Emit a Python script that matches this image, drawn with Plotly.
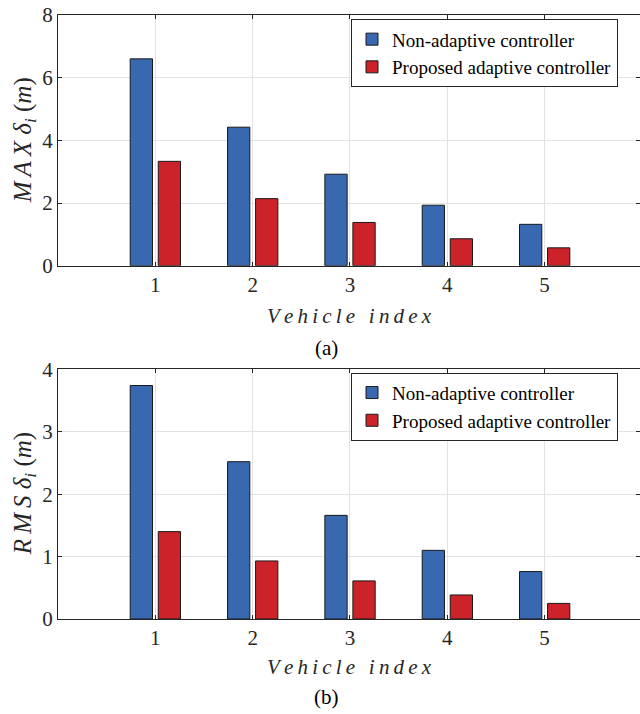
import plotly.graph_objects as go

vehicles = [1, 2, 3, 4, 5]
max_nonadaptive = [6.60, 4.42, 2.92, 1.93, 1.32]
max_adaptive = [3.33, 2.14, 1.38, 0.86, 0.57]
rms_nonadaptive = [3.74, 2.52, 1.66, 1.10, 0.76]
rms_adaptive = [1.40, 0.93, 0.61, 0.385, 0.25]
series_names = ["Non-adaptive controller", "Proposed adaptive controller"]
x_ticks = [1, 2, 3, 4, 5]
y_ticks_top = [0, 2, 4, 6, 8]
y_ticks_bottom = [0, 1, 2, 3, 4]

BLUE = "#3868b0"
RED = "#cc2229"
FONT = "Liberation Serif, Times New Roman, serif"
W, H = 640, 714

fig = go.Figure()

def add_pair(vals_a, vals_b, xa, ya, legend):
    fig.add_trace(go.Bar(x=vehicles, y=vals_a, name=series_names[0], width=0.229, offset=-0.258,
                         marker=dict(color=BLUE, line=dict(color="#1a1a1a", width=1)),
                         xaxis=xa, yaxis=ya, legend=legend))
    fig.add_trace(go.Bar(x=vehicles, y=vals_b, name=series_names[1], width=0.229, offset=0.03,
                         marker=dict(color=RED, line=dict(color="#1a1a1a", width=1)),
                         xaxis=xa, yaxis=ya, legend=legend))

add_pair(max_nonadaptive, max_adaptive, "x", "y", "legend")
add_pair(rms_nonadaptive, rms_adaptive, "x2", "y2", "legend2")

x_left = 58 / W
top_dom = [1 - 265.7 / H, 1 - 15 / H]
bot_dom = [1 - 619 / H, 1 - 369.3 / H]

axis_common = dict(showline=True, linecolor="#262626", linewidth=1, mirror="ticks",
                   ticks="inside", ticklen=4, tickcolor="#262626", automargin=False,
                   showgrid=True, gridcolor="#e3e3e3", gridwidth=1, zeroline=False,
                   tickfont=dict(family=FONT, size=21, color="#262626"))

legend_common = dict(xanchor="left", yanchor="top", bgcolor="white", bordercolor="#262626",
                     borderwidth=1, font=dict(family=FONT, size=19, color="black"),
                     tracegroupgap=0, itemwidth=30)

fig.update_layout(
    template="none",
    font=dict(family=FONT),
    width=W, height=H, margin=dict(l=0, r=0, t=0, b=0, autoexpand=False),
    paper_bgcolor="white", plot_bgcolor="white", barmode="overlay",
    xaxis=dict(domain=[x_left, 1], range=[0, 5.98], tickvals=x_ticks, anchor="y", **axis_common),
    yaxis=dict(domain=top_dom, range=[0, 8], tickvals=y_ticks_top, anchor="x", **axis_common),
    xaxis2=dict(domain=[x_left, 1], range=[0, 5.98], tickvals=x_ticks, anchor="y2", **axis_common),
    yaxis2=dict(domain=bot_dom, range=[0, 4], tickvals=y_ticks_bottom, anchor="x2", **axis_common),
    legend=dict(x=351 / W, y=1 - 19.3 / H, **legend_common),
    legend2=dict(x=351 / W, y=1 - 372.7 / H, **legend_common),
    showlegend=True,
)

ts = "\u2009"
xlabel = "<i>" + ts.join("Vehicle") + ts + " " + ts + ts.join("index") + "</i>"
ann = []
for ycen, word in [((265.7 + 15) / 2, "MAX"), ((619 + 369.3) / 2, "RMS")]:
    lab = "<i>" + ts.join(word) + "</i> <i>δ<sub>i</sub></i> (<i>m</i>)"
    ann.append(dict(x=24 / W, y=1 - ycen / H, xref="paper", yref="paper", text=lab, textangle=-90,
                    showarrow=False, font=dict(family=FONT, size=25, color="#262626"),
                    xanchor="center", yanchor="middle"))
for yc in [316, 667]:
    ann.append(dict(x=349 / W, y=1 - yc / H, xref="paper", yref="paper", text=xlabel, showarrow=False,
                    font=dict(family=FONT, size=21, color="#262626"), xanchor="center", yanchor="middle"))
for yc, lab in [(348, "(a)"), (697, "(b)")]:
    ann.append(dict(x=326 / W, y=1 - yc / H, xref="paper", yref="paper", text=lab, showarrow=False,
                    font=dict(family=FONT, size=21, color="black"), xanchor="center", yanchor="middle"))
fig.update_layout(annotations=ann)

fig.write_html("out.html")
